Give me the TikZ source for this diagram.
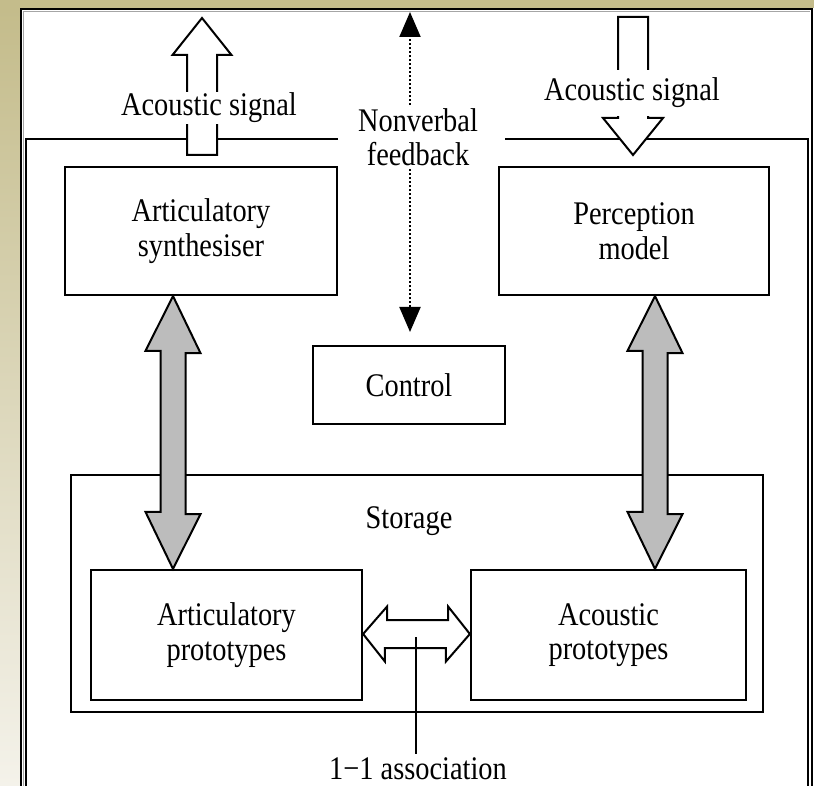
\documentclass[tikz,border=0pt]{standalone}
\usepackage{fontspec}
\setmainfont{Liberation Serif}[FakeStretch=0.86]
\usetikzlibrary{arrows.meta}

\definecolor{beige}{RGB}{196,188,139}
\definecolor{beigelight}{RGB}{244,242,234}
\definecolor{arrowgray}{RGB}{188,188,188}

\begin{document}
\begin{tikzpicture}[x=1pt,y=-1pt,
  box/.style={draw, line width=2.2pt, align=center},
  wide arrow/.style={draw, line width=2pt, line join=miter, fill=#1},
  wide arrow/.default=white,
  feedback/.style={line width=2pt, dash pattern=on 2pt off 2pt,
    -{Triangle[width=21pt,length=25pt]}},
  every node/.append style={font=\fontsize{33}{34.5}\selectfont}]
  \useasboundingbox (0,0) rectangle (814,786);
  % frame round the panel
  \fill[beige] (0,0) rectangle (814,8);
  \shade[top color=beige, bottom color=beigelight] (0,8) rectangle (20,786);
  \fill[white] (20,8) rectangle (814,786);
  \draw[line width=2pt] (21,786) -- (21,9) -- (812,9) -- (812,786);
  \draw[black!35, line width=1pt] (23.5,786) -- (23.5,11.5) -- (810,11.5);

  % system boundary
  \draw[line width=2.2pt] (338,139) -- (26,139) -- (26,786);
  \draw[line width=2.2pt] (505,139) -- (808,139) -- (808,786);

  \node[box, minimum width=272pt, minimum height=128pt] (synth) at (201,231) {Articulatory\\synthesiser};
  \node[box, minimum width=270pt, minimum height=128pt] (percep) at (634,231) {Perception\\model};
  \node[box, minimum width=192pt, minimum height=78pt] (control) at (409,385) {Control};
  \node[box, minimum width=692pt, minimum height=237pt] (storage) at (417,593.5) {};
  \node (storlab) at (409,521) {Storage};
  \node[box, minimum width=271pt, minimum height=130pt] (artproto) at (226.5,635) {Articulatory\\prototypes};
  \node[box, minimum width=275pt, minimum height=130pt] (acproto) at (608.5,635) {Acoustic\\prototypes};

  % grey two-way arrows
  \coordinate (lx) at (173,0);
  \coordinate (rx) at (655,0);
  \draw[wide arrow=arrowgray] (synth.south -| lx) -- ++(27.5,57) -- ++(-15,0) -- ++(0,161) -- ++(15,0)
    -- (artproto.north -| lx) -- ++(-27.5,-57) -- ++(15,0) -- ++(0,-161) -- ++(-15,0) -- cycle;
  \draw[wide arrow=arrowgray] (percep.south -| rx) -- ++(27.5,57) -- ++(-15,0) -- ++(0,161) -- ++(15,0)
    -- (acproto.north -| rx) -- ++(-27.5,-57) -- ++(15,0) -- ++(0,-161) -- ++(-15,0) -- cycle;

  % acoustic signal out and in
  \coordinate (outtip) at (202,18);
  \draw[wide arrow] (outtip) -- ++(29.5,37) -- ++(-14.5,0) -- ++(0,100) -- ++(-30,0)
    -- ++(0,-100) -- ++(-14.5,0) -- cycle;
  \node[fill=white, inner sep=1pt] (sigout) at (209,108) {Acoustic signal};
  \coordinate (intip) at (633,155);
  \draw[wide arrow] (intip) -- ++(30,-37) -- ++(-15,0) -- ++(0,-101) -- ++(-30,0)
    -- ++(0,101) -- ++(-15,0) -- cycle;
  \node[fill=white, inner xsep=1pt, minimum height=46pt] (sigin) at (632,93) {Acoustic signal};

  % nonverbal feedback
  \node[align=center] (nv) at (418,137) {Nonverbal\\feedback};
  \coordinate (fbup) at (410,12);
  \coordinate (fbdown) at (410,332);
  \draw[feedback] (nv.north -| fbup) -- (fbup);
  \draw[feedback] (nv.south -| fbup) -- (fbdown);

  % association
  \coordinate (ay) at (0,634);
  \draw[wide arrow] (artproto.east |- ay) -- ++(24,-27.5) -- ++(0,13.5) -- ++(61,0) -- ++(0,-13.5)
    -- (acproto.west |- ay) -- ++(-24,27.5) -- ++(0,-13.5) -- ++(-61,0) -- ++(0,13.5) -- cycle;
  \coordinate (assoc) at (416,637);
  \node (assoclab) at (418,769) {1−1 association};
  \draw[line width=2pt] (assoc) -- (assoclab.north -| assoc);
\end{tikzpicture}
\end{document}
